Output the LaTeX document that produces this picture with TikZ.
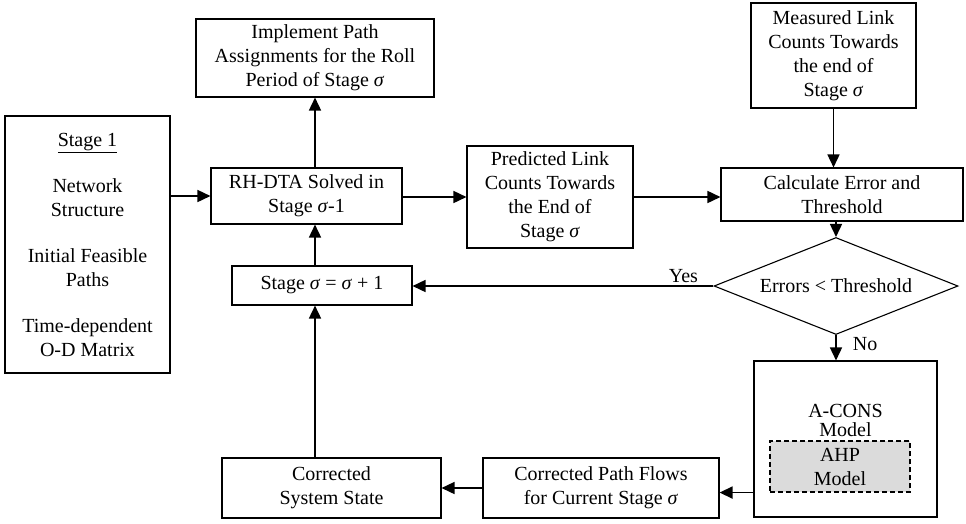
\documentclass[tikz,border=0pt]{standalone}
\usepackage{fontspec}
\setmainfont{Liberation Serif}
\usetikzlibrary{arrows.meta,shapes.geometric}
\newcommand{\sig}{\textit{σ}}
\begin{document}
\begin{tikzpicture}[x=1pt,y=-1pt,
  box/.style={draw, line width=1.1pt, align=center, inner sep=0pt, font=\fontsize{20}{24}\selectfont},
  txt/.style={align=center, inner sep=0pt, font=\fontsize{20}{24}\selectfont},
  arr/.style={line width=1.6pt, -{Triangle[length=13pt,width=12pt]}}]
\useasboundingbox (0,0) rectangle (966,523);
% nodes
\node[box, minimum width=165pt, minimum height=257pt] (s1) at (87.5,244.5)
  {\underline{Stage 1}\\[22pt]Network\\Structure\\[22pt]Initial Feasible\\Paths\\[22pt]Time-dependent\\O-D Matrix};
\node[box, minimum width=238pt, minimum height=78pt] (impl) at (315,58)
  {Implement Path\\Assignments for the Roll\\Period of Stage \sig};
\node[box, minimum width=191pt, minimum height=56pt] (rh) at (306.5,196)
  {RH-DTA Solved in\\Stage \sig-1};
\node[box, minimum width=166pt, minimum height=102pt] (pred) at (550,197)
  {Predicted Link\\Counts Towards\\the End of\\Stage \sig};
\node[box, minimum width=165pt, minimum height=105pt] (meas) at (833.5,55.5)
  {Measured Link\\Counts Towards\\the end of\\Stage \sig};
\node[box, minimum width=242pt, minimum height=53pt] (calc) at (842,194.5)
  {Calculate Error and\\Threshold};
\node[box, shape=diamond, shape aspect=2.5, minimum width=244pt, minimum height=97pt] (dia) at (836,286)
  {Errors < Threshold};
\node[box, minimum width=180pt, minimum height=39pt] (stage) at (322,285.5)
  {Stage \sig\ = \sig\ + 1};
\node[box, minimum width=183pt, minimum height=156pt] (acons) at (845.5,439) {};
\node[txt, font=\fontsize{20}{19}\selectfont] (aconstxt) at (845.5,420) {A-CONS\\Model};
\node[box, dash pattern=on 5pt off 3pt, fill=black!14, minimum width=140pt, minimum height=51pt] (ahp) at (840,466.5)
  {AHP\\Model};
\node[box, minimum width=236pt, minimum height=60pt] (cpf) at (601,488)
  {Corrected Path Flows\\for Current Stage \sig};
\node[box, minimum width=219pt, minimum height=60pt] (css) at (331.5,488)
  {Corrected\\System State};
% connectors
\draw[arr] (s1.east |- rh.west) -- (rh.west);
\draw[arr] (rh.north -| impl.south) -- (impl.south);
\draw[arr] (rh.east |- pred.west) -- (pred.west);
\draw[arr] (pred.east) -- (calc.west |- pred.east);
\draw[arr] (meas.south) -- (calc.north -| meas.south);
\draw[arr] (calc.south -| dia.north) -- (dia.north);
\draw[arr] (dia.west) -- (stage.east |- dia.west)
  node[txt, pos=0.1, anchor=south, yshift=3pt] (yes) {Yes};
\draw[arr] (dia.south) -- (acons.north -| dia.south)
  node[txt, pos=0.35, anchor=west, xshift=16pt] (no) {No};
\draw[arr] (stage.north -| impl.south) -- (rh.south -| impl.south);
\draw[arr] (acons.west |- ahp.south) -- (cpf.east |- ahp.south);
\draw[arr] (cpf.west) -- (css.east);
\draw[arr] (css.north -| impl.south) -- (stage.south -| impl.south);
\end{tikzpicture}
\end{document}
